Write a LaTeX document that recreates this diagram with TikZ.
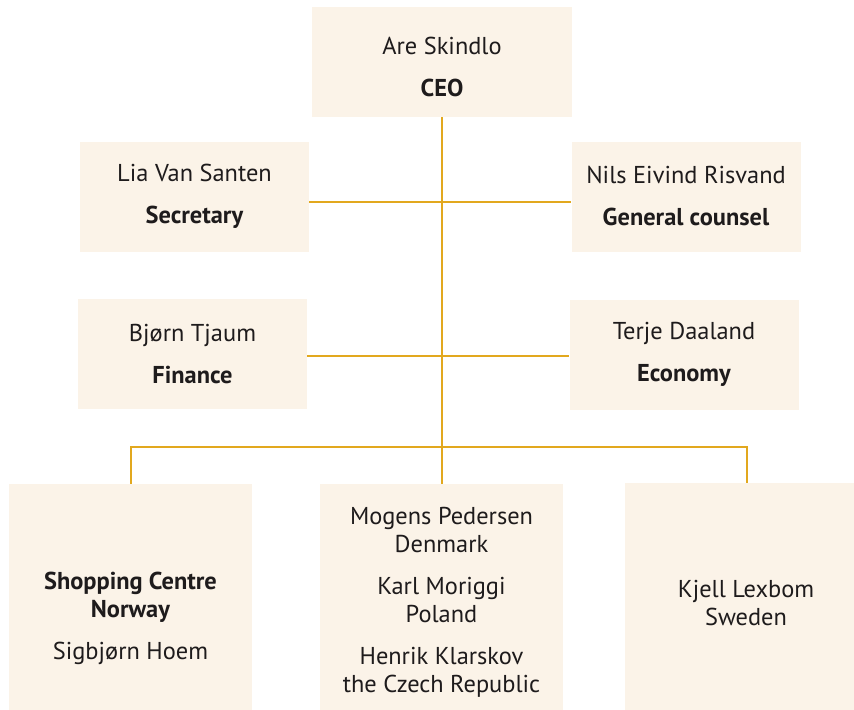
\documentclass[tikz,border=0pt]{standalone}
\usepackage{fontspec}
\setmainfont{PT Sans}
\usepackage{tikz}
\usetikzlibrary{calc}

\definecolor{boxfill}{RGB}{251,243,232}
\definecolor{linegold}{RGB}{226,168,30}
\definecolor{ink}{RGB}{30,27,28}

\tikzset{
  unit/.style={fill=boxfill, inner sep=0pt, minimum height=55pt, minimum width=114.5pt},
  ceobox/.style={unit, minimum width=130pt},
  countrybox/.style={unit, minimum width=121.5pt, minimum height=125pt},
  names/.style={align=center, text=ink, inner sep=0pt, font=\fontsize{12.2}{14}\selectfont},
  link/.style={draw=linegold, line width=1pt}
}

\begin{document}
\begin{tikzpicture}[x=0.5pt,y=-0.5pt]
\clip (0,0) rectangle (854,709);
% boxes
\node[ceobox] (ceo) at (442,62) {};
\node[unit] (sec) at (194.5,196.5) {};
\node[unit] (gc) at (686,197) {};
\node[unit] (fin) at (192.5,354) {};
\node[unit] (eco) at (684,354.5) {};
\node[countrybox] (shop) at (130.5,609) {};
\node[countrybox] (mid) at (441.5,609) {};
\node[countrybox] (swe) at (746.5,608) {};
% texts
\node[names] (ceo-txt) at (442,67) {Are Skindlo\\[7pt]\textbf{CEO}};
\node[names] (sec-txt) at (194.5,196) {Lia Van Santen\\[7pt]\textbf{Secretary}};
\node[names] (gc-txt) at (686,196) {Nils Eivind Risvand\\[7pt]\textbf{General counsel}};
\node[names] (fin-txt) at (192.5,354) {Bjørn Tjaum\\[7pt]\textbf{Finance}};
\node[names] (eco-txt) at (684,354) {Terje Daaland\\[7pt]\textbf{Economy}};
\node[names] (shop-txt) at (130.5,618) {\textbf{Shopping Centre}\\\textbf{Norway}\\[7pt]Sigbjørn Hoem};
\node[names] (mid-txt) at (441.5,602) {Mogens Pedersen\\Denmark\\[7pt]Karl Moriggi\\Poland\\[7pt]Henrik Klarskov\\the Czech Republic};
\node[names] (swe-txt) at (746,603) {Kjell Lexbom\\Sweden};
% connectors
\coordinate (bus) at (441.5,447);
\draw[link] (ceo.south -| mid.north) -- (mid.north);
\draw[link] ([yshift=-2.5pt]sec.east) -- ([yshift=-2.5pt]sec.east -| gc.west);
\draw[link] ([yshift=-1pt]fin.east) -- ([yshift=-1pt]fin.east -| eco.west);
\draw[link] (shop.north) |- (bus) -| (swe.north);
\end{tikzpicture}
\end{document}
